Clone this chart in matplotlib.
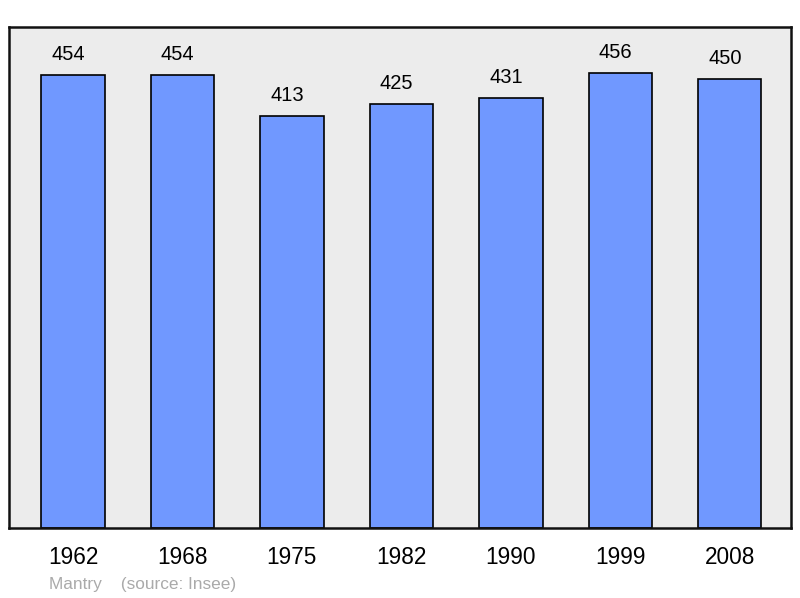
import matplotlib.pyplot as plt
import numpy as np

plt.rcParams['font.family'] = ['Liberation Sans', 'DejaVu Sans']

years = ['1962', '1968', '1975', '1982', '1990', '1999', '2008']
population = [454, 454, 413, 425, 431, 456, 450]

W, H = 800, 598
fig = plt.figure(figsize=(W / 100, H / 100), dpi=100)
# panel spans px x 9..791, y 27..528
ax = fig.add_axes([9 / W, (H - 528) / H, 782 / W, 501 / H])
ax.set_facecolor('#ececec')

x = np.arange(len(years))
ax.bar(x, population, width=0.58, color='#7098ff', edgecolor='black', linewidth=1.2, zorder=2)

for xi, v in zip(x, population):
    ax.annotate(str(v), xy=(xi, v), xytext=(-3.5, 8), textcoords='offset points',
                ha='center', va='bottom', fontsize=14.5, color='black')

ax.set_xlim(-0.585, 6.56)
ax.set_ylim(0, 502)
ax.set_xticks(x)
ax.set_xticklabels(years, fontsize=16.3)
ax.tick_params(axis='x', length=0, pad=13)
ax.set_yticks([])
for s in ax.spines.values():
    s.set_linewidth(1.8)
    s.set_color('#111111')

fig.text(49 / W, 1 - 584 / H, 'Mantry    (source: Insee)', fontsize=12.4, color='#aaaaaa',
         ha='left', va='center')

fig.savefig('out.png', dpi=100)
